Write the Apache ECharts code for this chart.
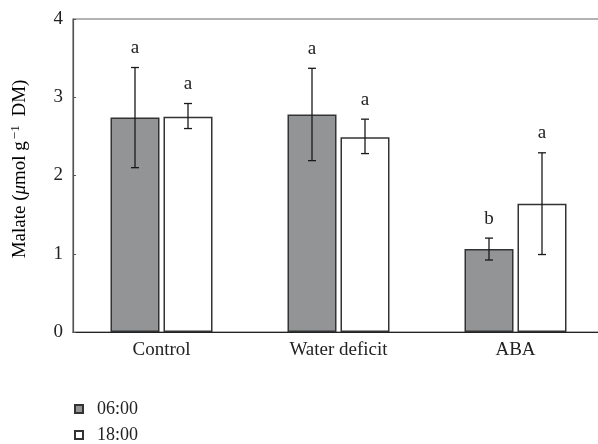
<!DOCTYPE html>
<html><head><meta charset="utf-8">
<script src="https://cdn.jsdelivr.net/npm/echarts@6/dist/echarts.min.js"></script>
<style>html,body{margin:0;padding:0;background:#fff}#c{width:598px;height:444px}</style>
</head><body><div id="c"></div>
<script>
var categories = ['Control', 'Water deficit', 'ABA'];
var seriesNames = ['06:00', '18:00'];
var mean0600 = [2.74, 2.78, 1.06];
var errLow0600 = [2.10, 2.19, 0.92];
var errHigh0600 = [3.38, 3.37, 1.20];
var letters0600 = ['a', 'a', 'b'];
var mean1800 = [2.75, 2.49, 1.64];
var errLow1800 = [2.60, 2.28, 0.99];
var errHigh1800 = [2.92, 2.72, 2.29];
var letters1800 = ['a', 'a', 'a'];
var yTicks = [0, 1, 2, 3, 4];

var FONT = 'Liberation Serif';
var BAR_W = 49, GAP = 4;
var chart = echarts.init(document.getElementById('c'));

function errSeries(low, high, letters, idx) {
  var data = categories.map(function (c, i) { return [i, low[i], high[i], letters[i]]; });
  return {
    type: 'custom', z: 10, silent: true,
    data: data,
    renderItem: function (params, api) {
      var i = api.value(0);
      var pLow = api.coord([i, api.value(1)]);
      var pHigh = api.coord([i, api.value(2)]);
      var off = (idx === 0 ? -1 : 1) * (BAR_W + GAP) / 2;
      var x = pLow[0] + off;
      var cap = 4;
      var st = { stroke: '#1a1a1a', lineWidth: 1.3 };
      return {
        type: 'group',
        children: [
          { type: 'line', shape: { x1: x, y1: pLow[1], x2: x, y2: pHigh[1] }, style: st },
          { type: 'line', shape: { x1: x - cap, y1: pLow[1], x2: x + cap, y2: pLow[1] }, style: st },
          { type: 'line', shape: { x1: x - cap, y1: pHigh[1], x2: x + cap, y2: pHigh[1] }, style: st },
          { type: 'text', style: { text: letters[i], x: x, y: pHigh[1] - 10, align: 'center', verticalAlign: 'bottom', font: '19px "' + FONT + '"', fill: '#222' } }
        ]
      };
    }
  };
}

function legendFor(name, top) {
  return {
    orient: 'vertical', left: 74, top: top, itemWidth: 8, itemHeight: 8, padding: 0,
    data: [name],
    textStyle: { fontFamily: FONT, fontSize: 18, color: '#222', padding: [0, 0, 0, 9] },
    icon: 'rect'
  };
}

chart.setOption({
  animation: false,
  grid: { left: 73, top: 19, width: 531, height: 313, show: true, borderColor: '#666', borderWidth: 1.2, backgroundColor: 'transparent', outerBoundsMode: 'none', containLabel: false },
  legend: [legendFor(seriesNames[0], 400), legendFor(seriesNames[1], 426)],
  xAxis: {
    type: 'category', data: categories,
    axisLine: { lineStyle: { color: '#222', width: 1.2 } },
    axisTick: { inside: true, length: 3, lineStyle: { color: '#666' } },
    axisLabel: { fontFamily: FONT, fontSize: 19, color: '#222', margin: 9 }
  },
  yAxis: {
    type: 'value', min: 0, max: 4, interval: 1,
    splitLine: { show: false },
    axisLine: { show: true, lineStyle: { color: '#555', width: 1.2 } },
    axisTick: { show: true, inside: true, length: 3, lineStyle: { color: '#555' } },
    axisLabel: { fontFamily: FONT, fontSize: 19, color: '#222', margin: 10,
      formatter: function (v) { return yTicks.indexOf(v) >= 0 ? String(v) : ''; } }
  },
  graphic: [{
    type: 'text', x: 20, y: 169, rotation: Math.PI / 2,
    style: {
      text: '{a|Malate (}{mu|μ}{a|mol g}{sup|−1}{a| DM)}',
      align: 'center', verticalAlign: 'middle',
      rich: {
        a: { fontFamily: FONT, fontSize: 19, color: '#222' },
        mu: { fontFamily: FONT, fontSize: 19, fontStyle: 'italic', color: '#222' },
        sup: { fontFamily: FONT, fontSize: 13, color: '#222', verticalAlign: 'top', padding: [0, 4, 9, 2] }
      }
    }
  }],
  series: [
    { name: seriesNames[0], type: 'bar', data: mean0600, barWidth: BAR_W, barGap: (GAP / BAR_W * 100) + '%',
      itemStyle: { color: '#939496', borderColor: '#333', borderWidth: 1.5 } },
    { name: seriesNames[1], type: 'bar', data: mean1800, barWidth: BAR_W,
      itemStyle: { color: '#ffffff', borderColor: '#333', borderWidth: 1.5 } },
    errSeries(errLow0600, errHigh0600, letters0600, 0),
    errSeries(errLow1800, errHigh1800, letters1800, 1)
  ]
});
</script></body></html>
